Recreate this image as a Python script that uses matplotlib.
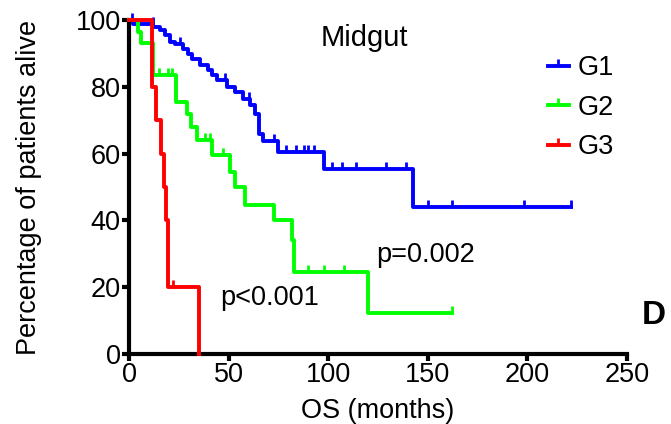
import numpy as np
import matplotlib
matplotlib.use("Agg")
import matplotlib.pyplot as plt
from matplotlib.path import Path
from matplotlib.lines import Line2D

plt.rcParams['font.family'] = ['Liberation Sans', 'DejaVu Sans']

# Kaplan-Meier steps (months, % alive after the drop)
g1_t = [0, 2, 12.2, 15.5, 18, 20.5, 23, 27.2, 29.7, 31.4, 35.6, 39.8, 41.4, 44, 49, 53,
        57.3, 60.6, 63, 65, 67, 74.6, 98, 142.5]
g1_s = [100, 98.8, 97.9, 96.9, 95.4, 93.4, 92.9, 91.4, 89.9, 88.4, 86.4, 84.9, 83.4, 81.9,
        79.9, 78.4, 76.4, 74.5, 72, 66, 63.7, 60.5, 55.3, 44]
g1_end = 222
g1_cens = [1.5, 12, 25.6, 48, 60, 73, 79, 84, 88, 90, 93, 102, 107, 114, 129, 139,
           150, 162, 198.5, 222]

g2_t = [0, 4.5, 6, 12, 23.5, 29, 31, 34, 41.5, 50.5, 53, 58, 73, 82, 83, 120]
g2_s = [100, 96.5, 93, 83.5, 75.5, 72, 68, 64, 59.5, 54.5, 50, 44.5, 40, 34, 24.7, 12.4]
g2_end = 162
g2_cens = [15, 19.5, 21.5, 38, 40.5, 47, 90, 98, 108, 162]

g3_t = [0, 11.5, 13.5, 16, 17.5, 18.4, 19.4, 35]
g3_s = [100, 80, 70, 60, 50, 40, 20, 0]
g3_end = 35
g3_cens = [22]

groups = ["G1", "G2", "G3"]
colors = ["#0000FF", "#00FF00", "#FF0000"]

tick = Path([(0, 0), (0, 1)], [Path.MOVETO, Path.LINETO])


def surv_at(t, s, x):
    i = np.searchsorted(t, x, side="right") - 1
    return s[i]


fs = 19.5

fig = plt.figure(figsize=(6.71, 4.24), dpi=100)
ax = fig.add_axes([0.1923, 0.1651, 0.7422, 0.7877])

data = [(g1_t, g1_s, g1_end, g1_cens), (g2_t, g2_s, g2_end, g2_cens),
        (g3_t, g3_s, g3_end, g3_cens)]
for (t, s, end, cens), c in zip(data, colors):
    tt = list(t) + [end]
    ss = list(s) + [s[-1]]
    ax.step(tt, ss, where="post", color=c, lw=2.8, clip_on=False, zorder=3)
    cy = [surv_at(t, s, x) for x in cens]
    ax.plot(cens, cy, ls="none", marker=tick, ms=10, mew=2.0, color=c,
            clip_on=False, zorder=3)

ax.set_xlim(0, 250)
ax.set_ylim(0, 100)
ax.set_xticks([0, 50, 100, 150, 200, 250])
ax.set_yticks([0, 20, 40, 60, 80, 100])
for sp in ["top", "right"]:
    ax.spines[sp].set_visible(False)
for sp in ["left", "bottom"]:
    ax.spines[sp].set_linewidth(3)
ax.tick_params(width=3, length=5, labelsize=fs, pad=1)
ax.set_xlabel("OS (months)", fontsize=fs, labelpad=7)
ax.set_ylabel("Percentage of patients alive", fontsize=fs, labelpad=24)

ax.text(118, 94.5, "Midgut", fontsize=21, ha="center", va="center")
ax.text(124, 29.5, "p=0.002", fontsize=fs, ha="left", va="center")
ax.text(46, 16.8, "p<0.001", fontsize=fs, ha="left", va="center")
fig.text(0.975, 0.257, "D", fontsize=24, fontweight="bold", ha="center", va="center")

handles = [Line2D([], [], color=c, lw=2.8, marker=tick, ms=10, mew=2.0) for c in colors]
ax.legend(handles, groups, loc="upper left", bbox_to_anchor=(0.80, 0.895),
          bbox_transform=fig.transFigure, frameon=False, fontsize=fs,
          handlelength=0.8, handletextpad=0.3, labelspacing=0.5, borderaxespad=0)

fig.savefig("out.png", dpi=100)
